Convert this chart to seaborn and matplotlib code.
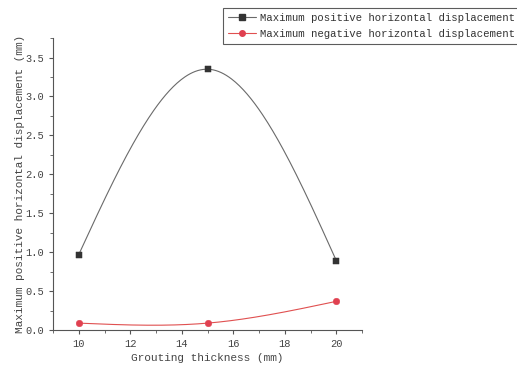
import numpy as np
import pandas as pd
import matplotlib
matplotlib.use("Agg")
import matplotlib.pyplot as plt
import seaborn as sns
from matplotlib.ticker import MultipleLocator
from matplotlib.lines import Line2D

thickness = [10, 15, 20]
max_positive = [0.97, 3.35, 0.89]
max_negative = [0.09, 0.09, 0.37]
labels = ["Maximum positive horizontal displacement",
          "Maximum negative horizontal displacement"]


def natural_spline(x, y, n=200):
    # natural cubic spline through the points (Origin "spline" connection)
    x = np.asarray(x, float)
    y = np.asarray(y, float)
    k = len(x)
    h = np.diff(x)
    A = np.zeros((k, k))
    r = np.zeros(k)
    A[0, 0] = A[-1, -1] = 1
    for i in range(1, k - 1):
        A[i, i - 1] = h[i - 1]
        A[i, i] = 2 * (h[i - 1] + h[i])
        A[i, i + 1] = h[i]
        r[i] = 6 * ((y[i + 1] - y[i]) / h[i] - (y[i] - y[i - 1]) / h[i - 1])
    M = np.linalg.solve(A, r)
    xs = np.linspace(x[0], x[-1], n)
    ys = np.empty_like(xs)
    for j, t in enumerate(xs):
        i = min(np.searchsorted(x, t, side="right") - 1, k - 2)
        a = x[i + 1] - t
        b = t - x[i]
        ys[j] = (M[i] * a ** 3 + M[i + 1] * b ** 3) / (6 * h[i]) \
            + (y[i] / h[i] - M[i] * h[i] / 6) * a \
            + (y[i + 1] / h[i] - M[i + 1] * h[i] / 6) * b
    return xs, ys


sns.set_style("ticks")
plt.rcParams['font.family'] = ['Liberation Mono', 'DejaVu Sans Mono']

fig = plt.figure(figsize=(5.17, 3.66), dpi=100)
ax = fig.add_axes([0.1025, 0.098, 0.598, 0.798])

pos_df = pd.DataFrame({"x": thickness, "y": max_positive})
neg_df = pd.DataFrame({"x": thickness, "y": max_negative})

xs, ys = natural_spline(thickness, max_positive)
ax.plot(xs, ys, color="#6a6a6a", lw=0.8)
xs, ys = natural_spline(thickness, max_negative)
ax.plot(xs, ys, color="#e05050", lw=0.8)

sns.scatterplot(data=pos_df, x="x", y="y", ax=ax, marker="s", s=20,
                color="#333333", edgecolor="#333333", zorder=3)
sns.scatterplot(data=neg_df, x="x", y="y", ax=ax, marker="o", s=22,
                color="#e04050", edgecolor="#e04050", zorder=3)

ax.set_xlim(9, 21)
ax.set_ylim(0, 3.75)
ax.xaxis.set_major_locator(MultipleLocator(2))
ax.xaxis.set_minor_locator(MultipleLocator(1))
ax.yaxis.set_major_locator(MultipleLocator(0.5))
ax.yaxis.set_minor_locator(MultipleLocator(0.25))
ax.tick_params(which="major", length=3, width=0.8, labelsize=7.5,
               colors="#555555", labelcolor="#444444")
ax.tick_params(which="minor", length=2, width=0.6, colors="#555555")
for s in ["top", "right"]:
    ax.spines[s].set_visible(False)
for s in ["left", "bottom"]:
    ax.spines[s].set_color("#555555")
    ax.spines[s].set_linewidth(0.8)

ax.set_xlabel("Grouting thickness (mm)", fontsize=8, color="#444444", labelpad=3)
ax.set_ylabel("Maximum positive horizontal displacement (mm)", fontsize=8,
              color="#444444", labelpad=0)

handles = [
    Line2D([], [], color="#6a6a6a", lw=0.8, marker="s", ms=4,
           mfc="#333333", mec="#333333"),
    Line2D([], [], color="#e05050", lw=0.8, marker="o", ms=4,
           mfc="#e04050", mec="#e04050"),
]
leg = fig.legend(handles, labels, loc="upper left",
                 bbox_to_anchor=(223 / 517, 1 - 8 / 366),
                 fontsize=7.7, frameon=True, fancybox=False,
                 handlelength=2.6, handletextpad=0.4, borderpad=0.45,
                 labelspacing=0.55, borderaxespad=0)
leg.get_frame().set_edgecolor("#333333")
leg.get_frame().set_linewidth(0.8)
for t in leg.get_texts():
    t.set_color("#333333")

fig.savefig("out.png", dpi=100)
